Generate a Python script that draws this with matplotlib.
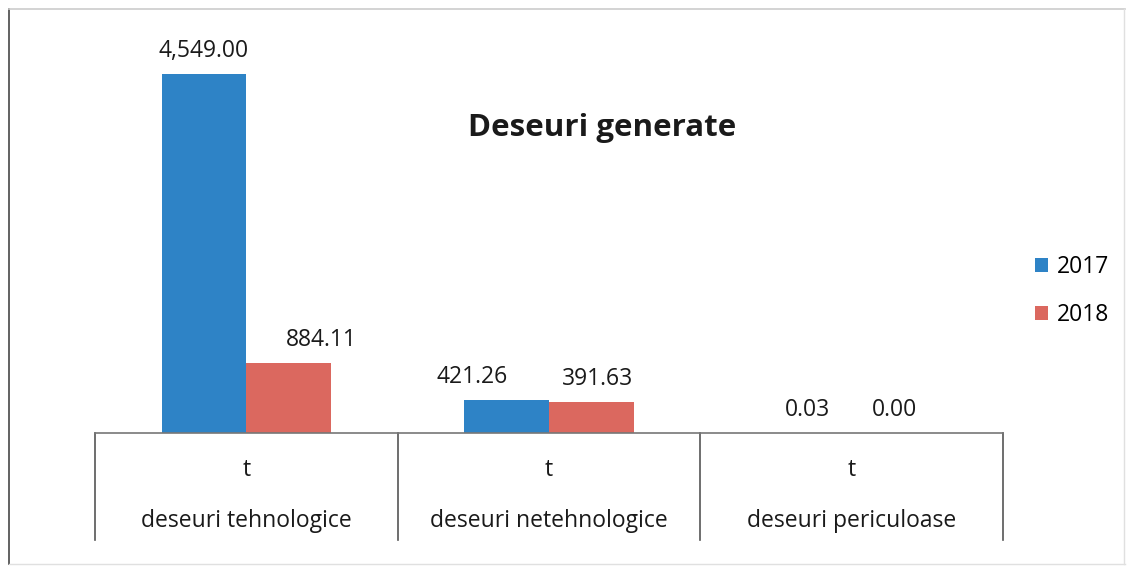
import matplotlib.pyplot as plt
import numpy as np
from matplotlib.lines import Line2D

plt.rcParams['font.family'] = ['Open Sans', 'DejaVu Sans']

categories = ['deseuri tehnologice', 'deseuri netehnologice', 'deseuri periculoase']
unit = 't'
years = ['2017', '2018']
v2017 = [4549.00, 421.26, 0.03]
v2018 = [884.11, 391.63, 0.00]

# horizontal nudges (px) of the value labels, as placed in the original chart
nudge2017 = [0, -35, -2]
nudge2018 = [33, 6, 0]

W, H = 1127, 566
fig = plt.figure(figsize=(W / 100, H / 100), dpi=100)
ax = fig.add_axes([95 / W, (H - 433) / H, 908 / W, (433 - 30) / H])

x = np.arange(len(categories))
w = 0.28
b1 = ax.bar(x - w / 2, v2017, w, color='#2e83c6', label=years[0])
b2 = ax.bar(x + w / 2, v2018, w, color='#db685f', label=years[1])

for bars, vals, nudge in ((b1, v2017, nudge2017), (b2, v2018, nudge2018)):
    for r, v, dx in zip(bars, vals, nudge):
        ax.annotate(f'{v:,.2f}', (r.get_x() + r.get_width() / 2, r.get_height()),
                    xytext=(dx * 0.72, 8), textcoords='offset points',
                    ha='center', va='bottom', fontsize=16.5, color='#1a1a1a')

ax.set_xlim(-0.5, len(categories) - 0.5)
ax.set_ylim(0, 4549 * 403 / 359)
for s in ['top', 'right', 'left']:
    ax.spines[s].set_visible(False)
ax.spines['bottom'].set_color('#777777')
ax.spines['bottom'].set_linewidth(1.2)
ax.set_xticks([])
ax.set_yticks([])

# category labels and separators below the axis
tr = ax.get_xaxis_transform()
for i, c in enumerate(categories):
    ax.text(i, -37 / 403, unit, transform=tr, ha='center', va='center',
            fontsize=16.5, color='#1a1a1a')
    ax.text(i, -88 / 403, c, transform=tr, ha='center', va='center',
            fontsize=16.5, color='#1a1a1a')
for xs in np.arange(len(categories) + 1) - 0.5:
    ax.plot([xs, xs], [0, -107 / 403], transform=tr, color='#555555',
            lw=1.2, clip_on=False)

fig.text(602 / W, 1 - 128 / H, 'Deseuri generate', ha='center', va='center',
         fontsize=22.5, fontweight='bold', color='#1a1a1a')

ax.legend(loc='center left', bbox_to_anchor=(1014 / W, 1 - 291 / H),
          bbox_transform=fig.transFigure, frameon=False, fontsize=16.5,
          handlelength=0.6, handleheight=0.6, handletextpad=0.35,
          labelspacing=1.05)

# chart border
fig.add_artist(Line2D([9 / W, 9 / W], [1 - 9 / H, 1 - 564 / H], color='#555555', lw=1.3))
fig.add_artist(Line2D([9 / W, 1125 / W], [1 - 9 / H, 1 - 9 / H], color='#cccccc', lw=1.2))
fig.add_artist(Line2D([1124 / W, 1124 / W], [1 - 9 / H, 1 - 564 / H], color='#e0e0e0', lw=1))
fig.add_artist(Line2D([9 / W, 1125 / W], [1 - 564 / H, 1 - 564 / H], color='#e0e0e0', lw=1))

plt.savefig('out.png', facecolor='w')
